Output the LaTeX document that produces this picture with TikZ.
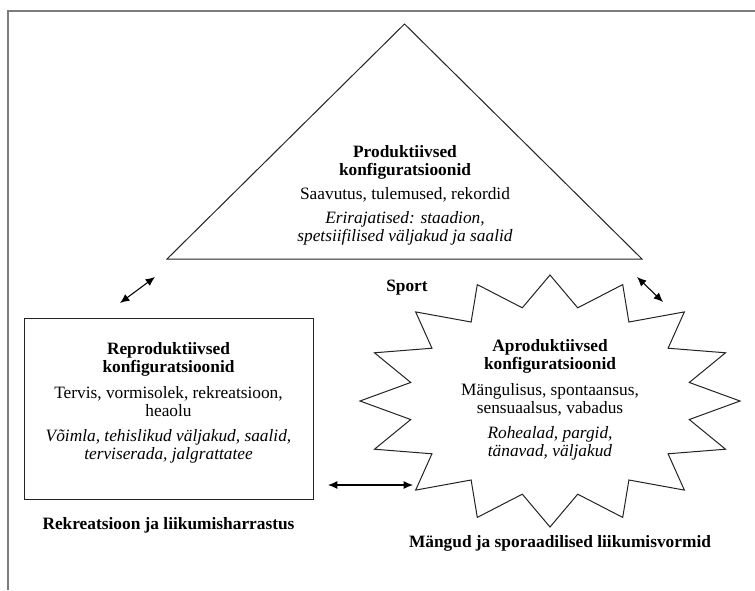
\documentclass[tikz,border=0pt]{standalone}
\usepackage{fontspec}
\setmainfont{Liberation Serif}
\usepackage{tikz}
\usetikzlibrary{
  arrows.meta,
  positioning,
  calc
}
\definecolor{framecolor}{RGB}{125, 125, 125}
\definecolor{linecolor}{RGB}{35, 35, 35}

\begin{document}
\begin{tikzpicture}[
    x=0.75pt, y=0.75pt,
    % Estilo das linhas das figuras
    shapeline/.style={
        draw=linecolor,
        line width=0.75pt
    },
    % Moldura (so topo e lado esquerdo)
    framebase/.style={
        draw=framecolor,
        line width=1.6pt
    },
    % Texto dentro das figuras
    bodytext/.style={
        font=\fontsize{13}{13.5}\selectfont,
        align=center,
        inner sep=0pt
    },
    % Rotulos em negrito fora das figuras
    titlelabel/.style={
        font=\fontsize{13}{13.5}\selectfont\bfseries,
        align=center,
        inner sep=0pt
    },
    % Caixa retangular
    boxbase/.style={
        rectangle,
        shapeline,
        minimum width=216.75pt,
        minimum height=135.75pt,
        inner sep=0pt
    },
    % Setas duplas
    arrow/.style={
        {Latex[length=7pt,width=6pt]}-{Latex[length=7pt,width=6pt]},
        line width=0.8pt,
        draw=black
    },
]

\useasboundingbox (0,0) rectangle (755,590);

% ============================================================================
% Moldura
% ============================================================================
\draw[framebase] (755,579) -| (8,0);

% ============================================================================
% Triangulo: Produktiivsed konfiguratsioonid
% ============================================================================
\coordinate (apex) at (404.5,566);
\coordinate (baseleft) at (167,331);
\coordinate (baseright) at (642,331);
\draw[shapeline] (apex) -- (baseright) -- (baseleft) -- cycle;

\node[bodytext] (prodtext) at (405,395) {
    \textbf{Produktiivsed}\\
    \textbf{konfiguratsioonid}\\[5pt]
    Saavutus, tulemused, rekordid\\[4pt]
    \textit{Erirajatised: staadion,}\\
    \textit{spetsiifilised väljakud ja saalid}
};

% ============================================================================
% Retangulo: Reproduktiivsed konfiguratsioonid
% ============================================================================
\node[boxbase] (repro) at (168.5,181.5) {};
\node[bodytext] (reprotext) at ($(repro.center)+(0,6)$) {
    \textbf{Reproduktiivsed}\\
    \textbf{konfiguratsioonid}\\[6pt]
    Tervis, vormisolek, rekreatsioon,\\
    heaolu\\[5pt]
    \textit{Võimla, tehislikud väljakud, saalid,}\\
    \textit{terviserada, jalgrattatee}
};
\node[titlelabel, below=13.5pt of repro] (reprolabel) {Rekreatsioon ja liikumisharrastus};

% ============================================================================
% Estrela: Aproduktiivsed konfiguratsioonid
% ============================================================================
\coordinate (aprocentre) at (550,189);
\draw[shapeline] plot[samples at={0,...,31}, variable=\i]
    ({550+(mod(\i,2)==0 ? 190 : 142)*cos(90+11.25*\i)},
     {189+(mod(\i,2)==0 ? 126 : 95)*sin(90+11.25*\i)}) -- cycle;

\node[bodytext] (aprotext) at ($(aprocentre)+(0,1.5)$) {
    \textbf{Aproduktiivsed}\\
    \textbf{konfiguratsioonid}\\[6pt]
    Mängulisus, spontaansus,\\
    sensuaalsus, vabadus\\[5pt]
    \textit{Rohealad, pargid,}\\
    \textit{tänavad, väljakud}
};
\node[titlelabel] (aprolabel) at (560,47) {Mängud ja sporaadilised liikumisvormid};

% Rotulo Sport
\node[titlelabel] (sportlabel) at (407,302) {Sport};

% ============================================================================
% Setas
% ============================================================================
\coordinate (leftlow) at (120,287);
\coordinate (lefthigh) at (155,313);
\coordinate (righthigh) at (637,313);
\coordinate (rightlow) at (663,288);
\coordinate (bottomleft) at (328,105);
\coordinate (bottomright) at (413,105);

\draw[arrow] (leftlow) -- (lefthigh);
\draw[arrow] (righthigh) -- (rightlow);
\draw[arrow] (bottomleft) -- (bottomright);

\end{tikzpicture}
\end{document}
